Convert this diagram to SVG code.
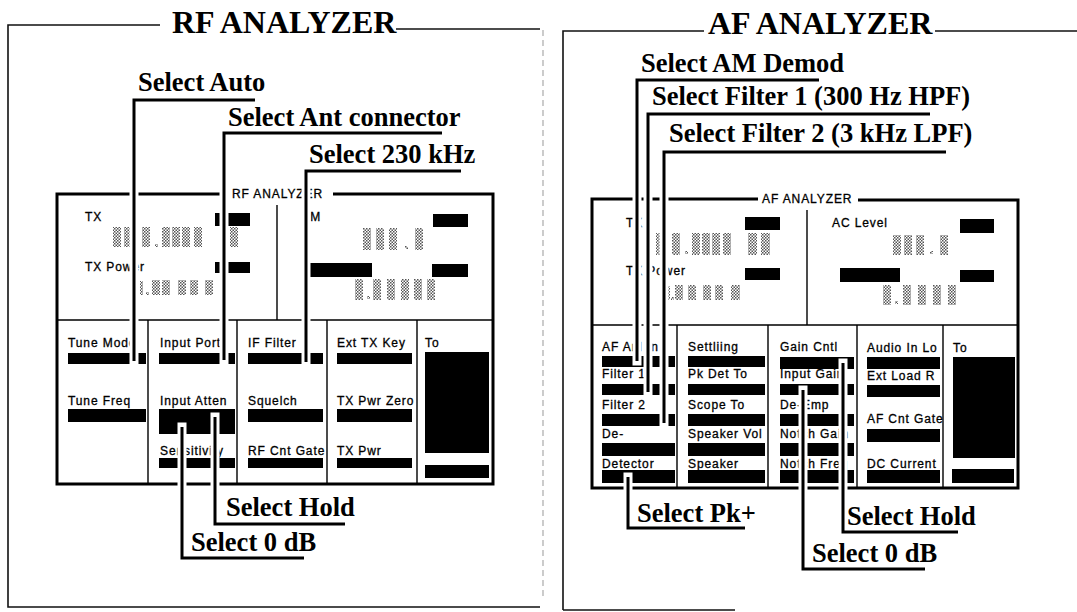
<svg xmlns="http://www.w3.org/2000/svg" width="1077" height="612" viewBox="0 0 1077 612">
<defs>
<pattern id="dots" width="3" height="3" patternUnits="userSpaceOnUse"><rect width="1.5" height="1.5" fill="#555"/><rect x="1.5" y="1.5" width="1.5" height="1.5" fill="#555"/></pattern>
</defs>
<style>
.frame{fill:none;stroke:#111;stroke-width:1.6}
.faint{fill:none;stroke:#aaa;stroke-width:1.2;stroke-dasharray:6 4}
.title{font-family:"Liberation Serif","Times New Roman",serif;font-weight:bold;font-size:32px;fill:#000}
.call{font-family:"Liberation Serif","Times New Roman",serif;font-weight:bold;font-size:26.5px;fill:#000}
.lbl{font-family:"Liberation Sans",Arial,sans-serif;font-size:12px;letter-spacing:0.9px;fill:#000;stroke:#000;stroke-width:0.3}
.scr{fill:none;stroke:#000;stroke-width:3}
.div{fill:none;stroke:#000;stroke-width:1.4}
.blk{fill:#000}
.dig{fill:url(#dots)}
.halo{fill:none;stroke:#fff;stroke-width:9;stroke-linecap:square}
.wire{fill:none;stroke:#000;stroke-width:3;stroke-linejoin:miter}
</style>
<rect width="1077" height="612" fill="#fff"/>

<g id="rf-panel">
<path class="frame" d="M160,25 H8 V607 H540"/>
<path class="frame" d="M396,29 H540"/>
<path class="faint" d="M543,30 V600"/>
<text class="title" x="172" y="33">RF ANALYZER</text>
</g>

<g id="af-panel">
<path class="frame" d="M704,31 H563 V610"/>
<path class="frame" d="M563,610 H735" stroke="#888"/>
<path class="frame" d="M935,31 H1077"/>
<text class="title" x="708" y="34">AF ANALYZER</text>
</g>

<g id="rf-screen">
<path class="scr" d="M228,194 H57 V484 H493 V194 H333"/>
<text class="lbl" x="232" y="198">RF ANALYZER</text>
<path class="div" d="M57,320 H493 M277,205 V320 M148,320 V484 M237,320 V484 M327,320 V484 M417,320 V484"/>
<text class="lbl" x="85" y="221">TX</text>
<text class="lbl" x="85" y="271">TX Power</text>
<text class="lbl" x="302" y="221">FM</text>
<rect class="blk" x="215" y="213" width="35" height="13"/>
<rect class="blk" x="215" y="262" width="35" height="11"/>
<rect class="blk" x="433" y="214" width="35" height="13"/>
<rect class="blk" x="310" y="263" width="62" height="14"/>
<rect class="blk" x="432" y="264" width="36" height="13"/>
<g class="dig">
<rect x="113" y="227" width="8" height="20"/><rect x="124" y="227" width="8" height="20"/><rect x="142" y="227" width="8" height="20"/><rect x="155" y="244" width="3" height="3"/><rect x="162" y="227" width="8" height="20"/><rect x="172" y="227" width="8" height="20"/><rect x="182" y="227" width="8" height="20"/><rect x="194" y="227" width="8" height="20"/><rect x="230" y="227" width="8" height="20"/>
<rect x="140" y="281" width="3" height="14"/><rect x="146" y="292" width="3" height="3"/><rect x="152" y="280" width="8" height="15"/><rect x="162" y="280" width="8" height="15"/><rect x="178" y="280" width="8" height="15"/><rect x="190" y="280" width="8" height="15"/><rect x="205" y="280" width="8" height="15"/>
<rect x="363" y="228" width="8" height="22"/><rect x="376" y="228" width="8" height="22"/><rect x="389" y="228" width="8" height="22"/><rect x="405" y="246" width="3" height="3"/><rect x="415" y="228" width="8" height="22"/>
<rect x="355" y="279" width="8" height="21"/><rect x="367" y="296" width="3" height="3"/><rect x="373" y="279" width="8" height="21"/><rect x="387" y="279" width="8" height="21"/><rect x="401" y="279" width="8" height="21"/><rect x="414" y="279" width="8" height="21"/><rect x="427" y="279" width="8" height="21"/>
</g>
<text class="lbl" x="68" y="347">Tune Mode</text>
<text class="lbl" x="160" y="347">Input Port</text>
<text class="lbl" x="248" y="347">IF Filter</text>
<text class="lbl" x="337" y="347">Ext TX Key</text>
<text class="lbl" x="425" y="347">To</text>
<text class="lbl" x="68" y="405">Tune Freq</text>
<text class="lbl" x="160" y="405">Input Atten</text>
<text class="lbl" x="248" y="405">Squelch</text>
<text class="lbl" x="337" y="405">TX Pwr Zero</text>
<text class="lbl" x="160" y="455">Sensitivity</text>
<text class="lbl" x="248" y="455">RF Cnt Gate</text>
<text class="lbl" x="337" y="455">TX Pwr</text>
<rect class="blk" x="68" y="353" width="78" height="11"/>
<rect class="blk" x="159" y="353" width="76" height="11"/>
<rect class="blk" x="248" y="353" width="75" height="11"/>
<rect class="blk" x="337" y="353" width="75" height="11"/>
<rect class="blk" x="68" y="409" width="78" height="13"/>
<rect class="blk" x="159" y="409" width="76" height="25"/>
<rect class="blk" x="248" y="409" width="75" height="13"/>
<rect class="blk" x="337" y="409" width="75" height="13"/>
<rect class="blk" x="159" y="458" width="76" height="10"/>
<rect class="blk" x="248" y="458" width="75" height="10"/>
<rect class="blk" x="337" y="458" width="75" height="10"/>
<rect class="blk" x="425" y="352" width="64" height="101"/>
<rect class="blk" x="425" y="465" width="64" height="13"/>
</g>

<g id="af-screen">
<path class="scr" d="M758,199 H592 V488 H1018 V200 H858"/>
<text class="lbl" x="762" y="203">AF ANALYZER</text>
<path class="div" d="M592,325 H1018 M807,210 V325 M677,325 V488 M768,325 V488 M857,325 V488 M943,325 V488"/>
<text class="lbl" x="626" y="227">TX</text>
<text class="lbl" x="626" y="275">TX Power</text>
<text class="lbl" x="832" y="227">AC Level</text>
<rect class="blk" x="745" y="217" width="35" height="13"/>
<rect class="blk" x="745" y="268" width="35" height="12"/>
<rect class="blk" x="960" y="219" width="34" height="14"/>
<rect class="blk" x="840" y="268" width="60" height="14"/>
<rect class="blk" x="960" y="270" width="34" height="12"/>
<g class="dig">
<rect x="656" y="233" width="6" height="22"/><rect x="672" y="233" width="8" height="22"/><rect x="685" y="251" width="3" height="3"/><rect x="692" y="233" width="8" height="22"/><rect x="702" y="233" width="8" height="22"/><rect x="712" y="233" width="8" height="22"/><rect x="723" y="233" width="8" height="22"/><rect x="748" y="233" width="9" height="22"/><rect x="761" y="233" width="9" height="22"/>
<rect x="667" y="286" width="3" height="14"/><rect x="671" y="297" width="3" height="3"/><rect x="675" y="285" width="8" height="15"/><rect x="688" y="285" width="8" height="15"/><rect x="703" y="285" width="8" height="15"/><rect x="715" y="285" width="8" height="15"/><rect x="731" y="285" width="9" height="15"/>
<rect x="893" y="235" width="8" height="20"/><rect x="904" y="235" width="8" height="20"/><rect x="916" y="235" width="8" height="20"/><rect x="930" y="251" width="3" height="3"/><rect x="940" y="235" width="8" height="20"/>
<rect x="883" y="285" width="8" height="20"/><rect x="895" y="301" width="3" height="3"/><rect x="903" y="285" width="8" height="20"/><rect x="918" y="285" width="8" height="20"/><rect x="933" y="285" width="8" height="20"/><rect x="948" y="285" width="8" height="20"/>
</g>
<text class="lbl" x="602" y="351">AF Anl In</text>
<text class="lbl" x="602" y="378">Filter 1</text>
<text class="lbl" x="602" y="409">Filter 2</text>
<text class="lbl" x="602" y="438">De-</text>
<text class="lbl" x="602" y="468">Detector</text>
<text class="lbl" x="688" y="351">Settliing</text>
<text class="lbl" x="688" y="378">Pk Det To</text>
<text class="lbl" x="688" y="409">Scope To</text>
<text class="lbl" x="688" y="438">Speaker Vol</text>
<text class="lbl" x="688" y="468">Speaker</text>
<text class="lbl" x="780" y="351">Gain Cntl</text>
<text class="lbl" x="780" y="378">Input Gain</text>
<text class="lbl" x="780" y="409">De-Emp</text>
<text class="lbl" x="780" y="438">Notch Gain</text>
<text class="lbl" x="780" y="468">Notch Freq</text>
<text class="lbl" x="867" y="352">Audio In Lo</text>
<text class="lbl" x="867" y="380">Ext Load R</text>
<text class="lbl" x="867" y="423">AF Cnt Gate</text>
<text class="lbl" x="867" y="468">DC Current</text>
<text class="lbl" x="953" y="352">To</text>
<rect class="blk" x="602" y="356" width="73" height="11"/>
<rect class="blk" x="602" y="384" width="73" height="11"/>
<rect class="blk" x="602" y="414" width="73" height="12"/>
<rect class="blk" x="602" y="443" width="73" height="13"/>
<rect class="blk" x="602" y="470" width="73" height="13"/>
<rect class="blk" x="688" y="356" width="77" height="11"/>
<rect class="blk" x="688" y="384" width="77" height="11"/>
<rect class="blk" x="688" y="414" width="77" height="12"/>
<rect class="blk" x="688" y="443" width="77" height="13"/>
<rect class="blk" x="688" y="470" width="77" height="13"/>
<rect class="blk" x="780" y="357" width="74" height="12"/>
<rect class="blk" x="780" y="384" width="74" height="11"/>
<rect class="blk" x="780" y="414" width="74" height="12"/>
<rect class="blk" x="780" y="443" width="74" height="13"/>
<rect class="blk" x="780" y="470" width="74" height="13"/>
<rect class="blk" x="867" y="357" width="73" height="12"/>
<rect class="blk" x="867" y="385" width="73" height="12"/>
<rect class="blk" x="867" y="429" width="73" height="13"/>
<rect class="blk" x="867" y="470" width="73" height="13"/>
<rect class="blk" x="953" y="357" width="62" height="101"/>
<rect class="blk" x="952" y="469" width="62" height="14"/>
</g>

<g id="connectors">
<path class="halo" d="M134,99 V361 M224,132 V360 M306,170 V362 M215,417 V524 M182,427 V558 M637,80 V361 M648,114 V392 M664,152 V423 M628,477 V528 M843,363 V532 M803,390 V569"/>
<path id="c-auto" class="wire" d="M255,100 H134 V361"/>
<path id="c-ant" class="wire" d="M442,133 H224 V360"/>
<path id="c-230" class="wire" d="M461,171 H306 V362"/>
<path id="c-hold-rf" class="wire" d="M215,417 V524 H345"/>
<path id="c-0db-rf" class="wire" d="M182,427 V558 H304"/>
<path id="c-am" class="wire" d="M819,80 H637 V361"/>
<path id="c-f1" class="wire" d="M930,114 H648 V392"/>
<path id="c-f2" class="wire" d="M946,152 H664 V423"/>
<path id="c-pk" class="wire" d="M628,477 V528 H745"/>
<path id="c-hold-af" class="wire" d="M843,363 V532 H958"/>
<path id="c-0db-af" class="wire" d="M803,390 V569 H925"/>
</g>

<g id="callout-auto"><text class="call" x="138" y="91">Select Auto</text></g>
<g id="callout-ant"><text class="call" x="228" y="126">Select Ant connector</text></g>
<g id="callout-230"><text class="call" x="309" y="163">Select 230 kHz</text></g>
<g id="callout-hold-rf"><text class="call" x="226" y="516">Select Hold</text></g>
<g id="callout-0db-rf"><text class="call" x="191" y="551">Select 0 dB</text></g>
<g id="callout-am"><text class="call" x="641" y="72">Select AM Demod</text></g>
<g id="callout-f1"><text class="call" x="652" y="105">Select Filter 1 (300 Hz HPF)</text></g>
<g id="callout-f2"><text class="call" x="669" y="142">Select Filter 2 (3 kHz LPF)</text></g>
<g id="callout-pk"><text class="call" x="637" y="522">Select Pk+</text></g>
<g id="callout-hold-af"><text class="call" x="847" y="525">Select Hold</text></g>
<g id="callout-0db-af"><text class="call" x="812" y="562">Select 0 dB</text></g>
</svg>
